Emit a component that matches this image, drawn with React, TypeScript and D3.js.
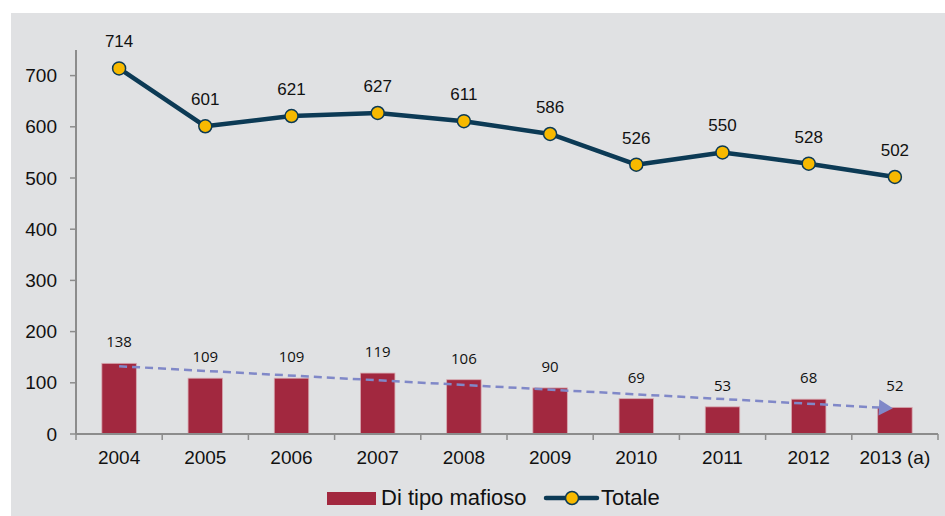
import React from "react";
import * as d3 from "d3";

const years = ["2004", "2005", "2006", "2007", "2008", "2009", "2010", "2011", "2012", "2013 (a)"];
const mafiosoValues = [138, 109, 109, 119, 106, 90, 69, 53, 68, 52];
const totaleValues = [714, 601, 621, 627, 611, 586, 526, 550, 528, 502];
const yTicks = [0, 100, 200, 300, 400, 500, 600, 700];
const legendLabels = ["Di tipo mafioso", "Totale"];

const W = 945;
const H = 516;
const M = { left: 76, right: 938, top: 50, bottom: 434 };

const BAR = "#a2283f";
const LINE = "#0c3a55";
const MARK = "#f7b900";
const TREND = "#8088c8";
const AXIS = "#8c8c8c";
const ARIAL = "'Liberation Sans', Arial, sans-serif";

export default function App() {
  const x = d3.scaleBand<string>().domain(years).range([M.left, M.right]).paddingInner(0).paddingOuter(0);
  const y = d3.scaleLinear().domain([0, 750]).range([M.bottom, M.top]);
  const bw = x.bandwidth();
  const barW = bw * 0.4;
  const cx = (d: string) => (x(d) as number) + bw / 2;

  const lineGen = d3
    .line<number>()
    .x((_, i) => cx(years[i]))
    .y((d) => y(d));

  // linear trend of the bar series
  const idx = mafiosoValues.map((_, i) => i);
  const mx = d3.mean(idx) as number;
  const my = d3.mean(mafiosoValues) as number;
  const slope =
    (d3.sum(idx, (i) => (i - mx) * (mafiosoValues[i] - my)) as number) /
    (d3.sum(idx, (i) => (i - mx) * (i - mx)) as number);
  const icpt = my - slope * mx;
  const n = years.length - 1;
  const tx0 = cx(years[0]);
  const ty0 = y(icpt);
  const tx1 = cx(years[n]) - 2;
  const ty1 = y(icpt + slope * n);
  const ang = Math.atan2(ty1 - ty0, tx1 - tx0);
  const ah = 14;
  const aw = 8;
  const bx = tx1 - ah * Math.cos(ang);
  const by = ty1 - ah * Math.sin(ang);
  const arrowPts = [
    [tx1, ty1],
    [bx + aw * Math.sin(ang), by - aw * Math.cos(ang)],
    [bx - aw * Math.sin(ang), by + aw * Math.cos(ang)],
  ]
    .map((p) => p.join(","))
    .join(" ");

  const boundaries = d3.range(years.length + 1).map((i) => M.left + i * bw);

  return (
    <svg
      width={W}
      height={H}
      style={{ position: "absolute", left: 0, top: 0, display: "block" }}
    >
      <rect x={0} y={0} width={W} height={H} fill="#ffffff" />
      <rect x={11} y={13} width={W - 11} height={H - 13} fill="#e0e1e3" />

      {/* y axis */}
      <line x1={M.left} x2={M.left} y1={M.top} y2={M.bottom} stroke={AXIS} strokeWidth={2} />
      {yTicks.map((t) => (
        <g key={t}>
          <line x1={M.left - 6} x2={M.left} y1={y(t)} y2={y(t)} stroke={AXIS} strokeWidth={1.5} />
          <text
            x={57}
            y={y(t)}
            dy="0.35em"
            textAnchor="end"
            fontFamily={ARIAL}
            fontSize={19}
            fill="#111"
          >
            {t}
          </text>
        </g>
      ))}

      {/* bars */}
      {years.map((yr, i) => (
        <rect
          key={yr}
          x={cx(yr) - barW / 2}
          y={y(mafiosoValues[i])}
          width={barW}
          height={y(0) - y(mafiosoValues[i])}
          fill={BAR}
          stroke="#d7a9b1"
          strokeWidth={0.8}
        />
      ))}
      {years.map((yr, i) => (
        <text
          key={"bl" + yr}
          x={cx(yr)}
          y={y(mafiosoValues[i]) - 16}
          textAnchor="middle"
          fontFamily="'Open Sans', sans-serif"
          fontSize={15}
          fill="#111"
        >
          {mafiosoValues[i]}
        </text>
      ))}

      {/* x axis */}
      <line x1={M.left} x2={M.right} y1={M.bottom} y2={M.bottom} stroke={AXIS} strokeWidth={2} />
      {boundaries.map((bx0, i) => (
        <line key={"xt" + i} x1={bx0} x2={bx0} y1={M.bottom} y2={M.bottom + 6} stroke={AXIS} strokeWidth={1.5} />
      ))}
      {years.map((yr) => (
        <text
          key={"xl" + yr}
          x={cx(yr)}
          y={464}
          textAnchor="middle"
          fontFamily={ARIAL}
          fontSize={19}
          fill="#111"
        >
          {yr}
        </text>
      ))}

      {/* trend */}
      <line
        x1={tx0}
        y1={ty0}
        x2={bx}
        y2={by}
        stroke={TREND}
        strokeWidth={2.5}
        strokeDasharray="8,5"
      />
      <polygon points={arrowPts} fill={TREND} />

      {/* totale line */}
      <path d={lineGen(totaleValues) || ""} fill="none" stroke={LINE} strokeWidth={4.5} strokeLinejoin="round" />
      {years.map((yr, i) => (
        <circle
          key={"c" + yr}
          cx={cx(yr)}
          cy={y(totaleValues[i])}
          r={6.5}
          fill={MARK}
          stroke={LINE}
          strokeWidth={1.5}
        />
      ))}
      {years.map((yr, i) => (
        <text
          key={"tl" + yr}
          x={cx(yr)}
          y={y(totaleValues[i]) - 21}
          textAnchor="middle"
          fontFamily={ARIAL}
          fontSize={17}
          fill="#111"
        >
          {totaleValues[i]}
        </text>
      ))}

      {/* legend */}
      <rect x={327} y={492} width={49} height={13} fill={BAR} />
      <text x={381} y={505} fontFamily={ARIAL} fontSize={22} fill="#111">
        {legendLabels[0]}
      </text>
      <line x1={546} x2={597} y1={498} y2={498} stroke={LINE} strokeWidth={4.5} strokeLinecap="round" />
      <circle cx={572} cy={498} r={6.5} fill={MARK} stroke={LINE} strokeWidth={1.5} />
      <text x={601} y={505} fontFamily={ARIAL} fontSize={22} fill="#111">
        {legendLabels[1]}
      </text>
    </svg>
  );
}
